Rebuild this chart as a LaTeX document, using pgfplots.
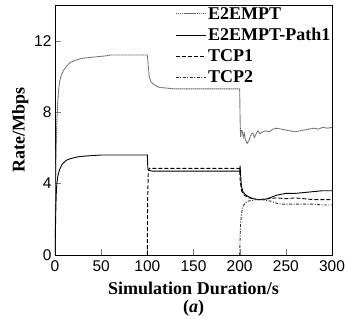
\documentclass[border=0pt]{standalone}
\usepackage{fontspec}
\setmainfont{Liberation Serif}
\newfontfamily\ticksfont{Liberation Sans}
\usepackage{pgfplots}
\pgfplotsset{compat=1.18}
\begin{document}
\begin{tikzpicture}
\begin{axis}[
  scale only axis, width=277pt, height=250pt,
  xmin=0, xmax=300, ymin=0, ymax=14,
  xtick={0,50,100,150,200,250,300},
  ytick={0,4,8,12},
  tick pos=left, major tick length=6pt,
  /pgf/number format/assume math mode=true,
  tick label style={font=\ticksfont\fontsize{15.5}{15.5}\selectfont},
  xticklabel style={yshift=-2pt},
  xlabel={Simulation Duration/s},
  ylabel={Rate/Mbps},
  label style={font=\bfseries\fontsize{18}{18}\selectfont},
  xlabel style={name=xlab, yshift=-4pt},
  ylabel style={yshift=-1pt},
  axis line style={line width=0.8pt},
  legend style={at={(0.433,1.0)}, anchor=north west, yshift=0pt, draw=none, fill=none,
     font=\bfseries\fontsize{18}{18}\selectfont, row sep=3.5pt, inner sep=0pt,
     /tikz/every even column/.append style={column sep=2pt}},
  legend image code/.code={\draw[#1] (0pt,0pt) -- (30pt,0pt);},
  legend cell align=left,
]
\addplot[black!60, line width=0.9pt, dash pattern=on 1.6pt off 0.5pt] coordinates {
(0,0) (0.5,3) (1,5) (1.5,6.5) (2,7.5) (3,8.6) (4,9.3) (5,9.7) (7,10.1) (10,10.4) (13,10.6) (17,10.8) (22,10.9) (28,11.0) (35,11.05) (45,11.1) (55,11.15) (60,11.2) (100,11.2) (101,10.6) (102,10.0) (104,9.7) (107,9.55) (112,9.4) (120,9.35) (130,9.3) (200,9.3) (200.5,7.5) (201,6.6) (202,7.0) (203,6.9) (204,6.6) (205,6.8) (206,6.5) (208,6.25) (210,6.4) (212,6.7) (214,6.85) (216,6.6) (218,6.8) (220,6.95) (222,6.8) (225,6.9) (228,6.95) (232,6.9) (236,7.05) (240,7.1) (245,7.05) (250,7.0) (255,6.95) (260,6.9) (265,6.95) (270,7.0) (275,7.05) (280,7.1) (285,7.05) (290,7.15) (295,7.1) (300,7.15)
};
\addlegendentry{E2EMPT}
\addplot[black, line width=0.9pt] coordinates {
(0,0) (0.5,1.5) (1,2.8) (1.5,3.6) (2,4.0) (3,4.4) (5,4.8) (8,5.1) (12,5.3) (17,5.4) (25,5.5) (35,5.55) (50,5.6) (100,5.6) (100.5,4.9) (101,4.75) (105,4.7) (200,4.7) (200.5,5.0) (201,4.5) (202,3.8) (204,3.5) (207,3.35) (210,3.25) (215,3.15) (220,3.1) (225,3.1) (230,3.15) (235,3.25) (240,3.35) (250,3.45) (260,3.45) (270,3.5) (280,3.55) (290,3.6) (300,3.6)
};
\addlegendentry{E2EMPT-Path1}
\addplot[black, line width=0.9pt, dash pattern=on 4pt off 2pt] coordinates {
(100,0) (100.3,3) (101,4.6) (102,4.85) (200,4.85) (200.5,4.2) (202,3.6) (205,3.35) (210,3.2) (215,3.15) (220,3.1) (230,3.15) (240,3.2) (250,3.15) (260,3.2) (270,3.15) (280,3.1) (290,3.1) (300,3.1)
};
\addlegendentry{TCP1}
\addplot[black!80, line width=0.9pt, dash pattern=on 3pt off 1.5pt on 1pt off 1.5pt] coordinates {
(200,0) (200.5,1.0) (201,1.8) (202,2.3) (203,2.6) (205,2.85) (208,3.0) (212,3.05) (218,3.1) (225,3.1) (230,3.05) (235,3.0) (240,2.9) (245,2.85) (250,2.85) (260,2.85) (270,2.85) (280,2.85) (290,2.8) (300,2.8)
};
\addlegendentry{TCP2}
\end{axis}
\node[anchor=north, font=\bfseries\fontsize{18}{18}\selectfont, inner sep=1pt] at (xlab.south) {(\textit{a})};
\pgfresetboundingbox
\path (-55pt,-67pt) rectangle (290pt,255pt);
\end{tikzpicture}
\end{document}
